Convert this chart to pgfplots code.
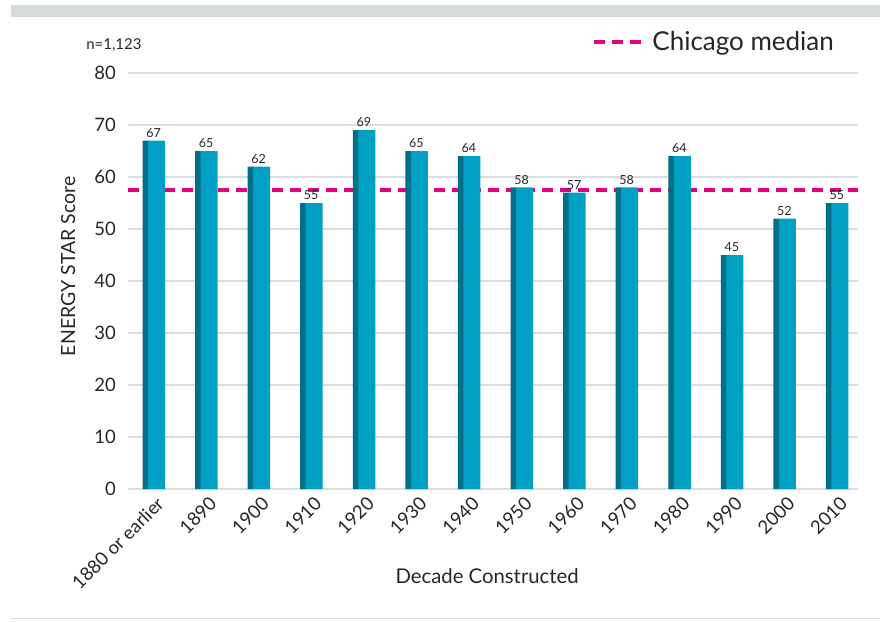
\documentclass[border=0pt]{standalone}
\usepackage{pgfplots}
\pgfplotsset{compat=1.18}
\usepackage{pgfplotstable}
\usepackage{fontspec}
\setmainfont{Lato}
\definecolor{barfront}{HTML}{00A0C4}
\definecolor{barside}{HTML}{006F88}
\definecolor{med}{HTML}{E6007E}
\definecolor{gridc}{HTML}{DADDDD}
\definecolor{band}{HTML}{D7DADA}
\definecolor{txt}{HTML}{262626}

\pgfplotstableread{
x val
0 67
1 65
2 62
3 55
4 69
5 65
6 64
7 58
8 57
9 58
10 64
11 45
12 52
13 55
}\data

\begin{document}
\begin{tikzpicture}
\useasboundingbox (0pt,0pt) rectangle (880pt,621pt);
\fill[band] (11pt,604pt) rectangle (880pt,616pt);
\draw[gridc, line width=1.5pt] (11pt,2.5pt) -- (880pt,2.5pt);
\begin{axis}[
  at={(128pt,132pt)}, anchor=south west,
  scale only axis, width=730pt, height=416pt,
  xmin=-0.485, xmax=13.4, ymin=0, ymax=80,
  axis line style={draw=none},
  ytick={0,10,...,80},
  ymajorgrids, grid style={gridc, line width=1.3pt},
  extra y ticks={0}, extra y tick labels={},
  extra y tick style={grid style={gridc, line width=2.5pt}},
  major tick length=0pt,
  xtick={0,...,13},
  xticklabels={1880 or earlier,1890,1900,1910,1920,1930,1940,1950,1960,1970,1980,1990,2000,2010},
  xticklabel style={rotate=45, anchor=north east, inner sep=0pt, xshift=-3pt, yshift=-6pt,
    font=\fontsize{18.5}{20}\selectfont, text=txt},
  yticklabel style={anchor=east, inner sep=0pt, xshift=-12pt,
    font=\fontsize{18.5}{20}\selectfont, text=txt},
  /pgf/number format/assume math mode=true,
  xlabel={Decade Constructed},
  every axis x label/.style={at={(axis description cs:0.492,-0.209)}, anchor=center,
    font=\fontsize{20.3}{22}\selectfont, text=txt},
  ylabel={ENERGY STAR Score},
  every axis y label/.style={at={(axis description cs:-0.082,0.535)}, anchor=center, rotate=90,
    font=\fontsize{19.5}{22}\selectfont, text=txt},
  legend style={at={(axis description cs:0.97,1.075)}, anchor=east, draw=none, fill=none,
    font=\fontsize{26}{28}\selectfont, text=txt, inner sep=0pt},
  legend image code/.code={\draw[#1] (0pt,0pt) -- (47pt,0pt); \path (55pt,0pt);},
  clip=false,
]
\addplot[med, line width=3.5pt, dash pattern=on 11pt off 7pt] coordinates {(-0.485,57.5) (13.4,57.5)};
\addlegendentry{Chicago median}
\addplot[ybar, bar width=6pt, bar shift=-8pt, fill=barside, draw=none, forget plot] table[x=x,y=val]{\data};
\addplot[ybar, bar width=17pt, bar shift=3pt, fill=barfront, draw=none, forget plot] table[x=x,y=val]{\data};
\addplot[ybar, bar width=17pt, bar shift=0pt, draw=none, fill=none, forget plot,
  nodes near coords,
  every node near coord/.append style={font=\fontsize{12.5}{14}\selectfont, text=txt, anchor=south, inner sep=3pt}]
  table[x=x,y=val]{\data};
\node[anchor=west, font=\fontsize{15}{17}\selectfont, text=txt] at (axis description cs:-0.062,1.067) {n=1,123};
\end{axis}
\end{tikzpicture}
\end{document}
